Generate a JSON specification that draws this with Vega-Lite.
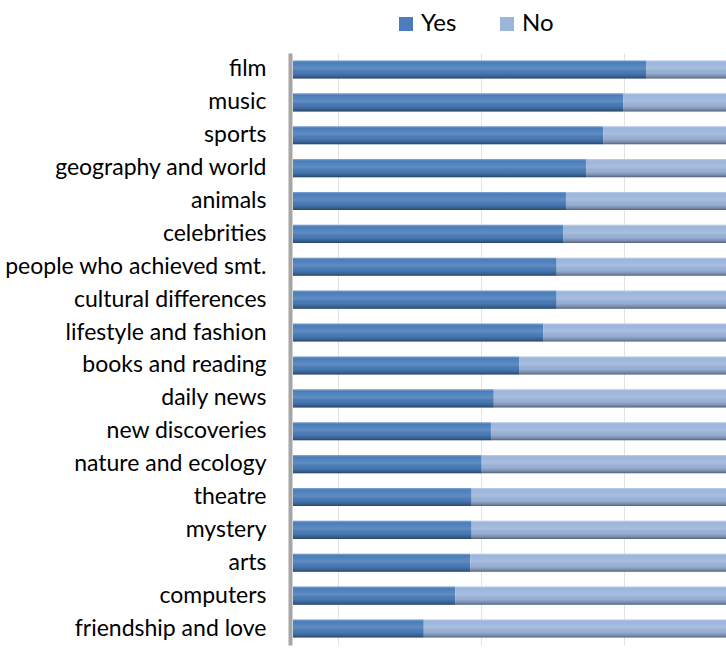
{
  "$schema": "https://vega.github.io/schema/vega-lite/v6.json",
  "width": 433,
  "height": 592,
  "autosize": {"type": "none"},
  "padding": {"left": 293, "top": 53, "right": 0, "bottom": 5},
  "background": "white",
  "config": {"view": {"stroke": null}, "font": "Lato"},
  "data": {
    "values": [
      {"topic": "film", "answer": "Yes", "pct": 49.4}, {"topic": "film", "answer": "No", "pct": 50.6},
      {"topic": "music", "answer": "Yes", "pct": 46.2}, {"topic": "music", "answer": "No", "pct": 53.8},
      {"topic": "sports", "answer": "Yes", "pct": 43.4}, {"topic": "sports", "answer": "No", "pct": 56.6},
      {"topic": "geography and world", "answer": "Yes", "pct": 41.0}, {"topic": "geography and world", "answer": "No", "pct": 59.0},
      {"topic": "animals", "answer": "Yes", "pct": 38.2}, {"topic": "animals", "answer": "No", "pct": 61.8},
      {"topic": "celebrities", "answer": "Yes", "pct": 37.8}, {"topic": "celebrities", "answer": "No", "pct": 62.2},
      {"topic": "people who achieved smt.", "answer": "Yes", "pct": 36.9}, {"topic": "people who achieved smt.", "answer": "No", "pct": 63.1},
      {"topic": "cultural differences", "answer": "Yes", "pct": 36.9}, {"topic": "cultural differences", "answer": "No", "pct": 63.1},
      {"topic": "lifestyle and fashion", "answer": "Yes", "pct": 35.0}, {"topic": "lifestyle and fashion", "answer": "No", "pct": 65.0},
      {"topic": "books and reading", "answer": "Yes", "pct": 31.7}, {"topic": "books and reading", "answer": "No", "pct": 68.3},
      {"topic": "daily news", "answer": "Yes", "pct": 28.1}, {"topic": "daily news", "answer": "No", "pct": 71.9},
      {"topic": "new discoveries", "answer": "Yes", "pct": 27.7}, {"topic": "new discoveries", "answer": "No", "pct": 72.3},
      {"topic": "nature and ecology", "answer": "Yes", "pct": 26.4}, {"topic": "nature and ecology", "answer": "No", "pct": 73.6},
      {"topic": "theatre", "answer": "Yes", "pct": 25.0}, {"topic": "theatre", "answer": "No", "pct": 75.0},
      {"topic": "mystery", "answer": "Yes", "pct": 25.0}, {"topic": "mystery", "answer": "No", "pct": 75.0},
      {"topic": "arts", "answer": "Yes", "pct": 24.8}, {"topic": "arts", "answer": "No", "pct": 75.2},
      {"topic": "computers", "answer": "Yes", "pct": 22.7}, {"topic": "computers", "answer": "No", "pct": 77.3},
      {"topic": "friendship and love", "answer": "Yes", "pct": 18.3}, {"topic": "friendship and love", "answer": "No", "pct": 81.7}
    ]
  },
  "encoding": {
    "y": {
      "field": "topic", "type": "nominal", "sort": null, "title": null,
      "scale": {"paddingInner": 0.45, "paddingOuter": 0.225},
      "axis": {"ticks": false, "domain": true, "domainColor": "#a6a6a6", "domainWidth": 4, "offset": 3,
               "labelPadding": 24, "labelFontSize": 23, "labelColor": "#000000", "labelFont": "Lato", "labelLimit": 400}
    },
    "x": {
      "field": "pct", "type": "quantitative", "stack": "zero", "title": null,
      "scale": {"domain": [0, 60.6], "nice": false, "zero": true},
      "axis": {"labels": false, "ticks": false, "domain": false, "grid": true, "gridColor": "#e3e3e3",
               "values": [6.3, 26.3, 46.3]}
    },
    "order": {"field": "answer", "sort": "descending"}
  },
  "layer": [
    {
      "mark": {"type": "bar", "clip": true},
      "encoding": {
        "color": {
          "field": "answer", "type": "nominal",
          "scale": {"domain": ["Yes", "No"], "range": ["#4a7dba", "#9cb5dc"]},
          "legend": {"orient": "none", "legendX": 101, "legendY": -41, "direction": "horizontal", "title": null,
                     "symbolType": "square", "symbolSize": 196, "symbolStrokeWidth": 0, "labelFontSize": 24,
                     "labelOffset": 3, "columnPadding": 38, "labelColor": "#000000", "labelFont": "Lato"}
        }
      }
    },
    {
      "mark": {
        "type": "bar", "clip": true,
        "color": {
          "gradient": "linear", "x1": 0, "y1": 0, "x2": 0, "y2": 1,
          "stops": [
            {"offset": 0, "color": "rgba(255,255,255,0.35)"},
            {"offset": 0.1, "color": "rgba(255,255,255,0.0)"},
            {"offset": 0.45, "color": "rgba(255,255,255,0.12)"},
            {"offset": 0.7, "color": "rgba(0,0,0,0.03)"},
            {"offset": 0.88, "color": "rgba(0,0,0,0.22)"},
            {"offset": 1, "color": "rgba(0,0,0,0.45)"}
          ]
        }
      },
      "encoding": {"detail": {"field": "answer"}}
    }
  ]
}
